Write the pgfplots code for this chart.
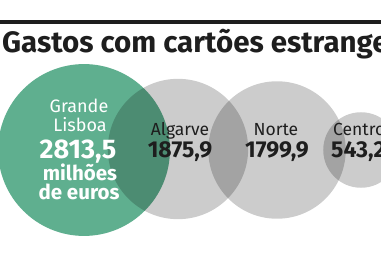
\documentclass[border=0pt]{standalone}
\usepackage{pgfplots}
\pgfplotsset{compat=1.18}
\usepackage{pgfplotstable}
\usepackage{fontspec}
\setmainfont{Fira Sans}
\definecolor{lgreen}{RGB}{95,175,143}
\definecolor{rule}{RGB}{30,30,30}
\pgfdeclareplotmark{fcirc}{\pgfpathcircle{\pgfpointorigin}{\pgfplotmarksize}\pgfusepathqfill}
\pgfplotstableread{
x y v
84 150 2813.5
}\lisboa
\pgfplotstableread{
x y v
178 149 1875.9
277 150 1799.9
361 150 543.2
}\outros
\begin{document}
\begin{tikzpicture}
\useasboundingbox (0,0) rectangle (381pt,254pt);
\clip (0,0) rectangle (381pt,254pt);
\begin{axis}[
  at={(0,0)}, anchor=south west,
  scale only axis, width=381pt, height=254pt,
  xmin=0, xmax=381, ymin=0, ymax=254, y dir=reverse,
  hide axis, clip=false,
]
\addplot[scatter, only marks, mark=fcirc,
  scatter/use mapped color={draw=lgreen, fill=lgreen},
  visualization depends on={1.62*sqrt(\thisrow{v}) \as \rad},
  scatter/@pre marker code/.append style={/tikz/mark size=\rad}]
  table[x=x, y=y] {\lisboa};
\addplot[scatter, only marks, mark=fcirc,
  scatter/use mapped color={draw=black, draw opacity=0, fill=black, fill opacity=0.2},
  visualization depends on={1.62*sqrt(\thisrow{v}) \as \rad},
  scatter/@pre marker code/.append style={/tikz/mark size=\rad}]
  table[x=x, y=y] {\outros};
\draw[rule, line width=4pt] (axis cs:0,22) -- (axis cs:381,22);
\end{axis}
\begin{scope}[every node/.style={inner sep=0pt, anchor=base}]
\node[anchor=base west, text=rule, font=\fontsize{29.5}{31}\selectfont\bfseries]
  at (2pt,201pt) {Gastos com cartões estrangeiros};
% Grande Lisboa
\node[text=white, font=\fontsize{18}{20}\selectfont] at (79pt,141pt) {Grande};
\node[text=white, font=\fontsize{18}{20}\selectfont] at (80pt,122pt) {Lisboa};
\node[text=white, font=\fontsize{27}{29}\selectfont\bfseries] at (78pt,95pt) {2813,5};
\node[text=white, font=\fontsize{20.5}{22}\selectfont\bfseries] at (80pt,73pt) {milhões};
\node[text=white, font=\fontsize{20.5}{22}\selectfont\bfseries] at (79pt,54pt) {de euros};
% Others
\node[text=rule, font=\fontsize{17.5}{19}\selectfont] at (180pt,118pt) {Algarve};
\node[text=rule, font=\fontsize{23}{25}\selectfont\bfseries] at (180pt,96pt) {1875,9};
\node[text=rule, font=\fontsize{17.5}{19}\selectfont] at (276pt,118pt) {Norte};
\node[text=rule, font=\fontsize{23}{25}\selectfont\bfseries] at (277pt,96pt) {1799,9};
\node[anchor=base west, text=rule, font=\fontsize{17.5}{19}\selectfont] at (333pt,118pt) {Centro};
\node[anchor=base west, text=rule, font=\fontsize{23}{25}\selectfont\bfseries] at (331pt,96pt) {543,2};
\end{scope}
\end{tikzpicture}
\end{document}
